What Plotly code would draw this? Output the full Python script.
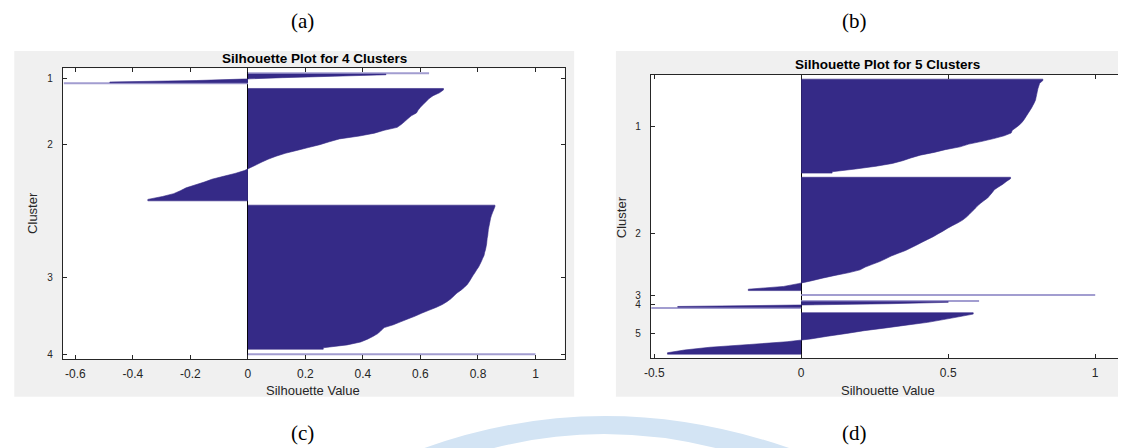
import plotly.graph_objects as go

# The page body has an 8px margin, so the figure is drawn 8px right/down.
OFF = 8
W, H = 1118, 440

# ---------------- data (silhouette values, sorted within each cluster) ----------------
# Panel (c): 4 clusters
labels_4 = ["1", "2", "3", "4"]
counts_4 = [8, 78, 100, 1]
sil4_c1 = [0.63, 0.48, 0.30, 0.12, -0.02, -0.18, -0.48, -0.64]
sil4_c2 = [0.680, 0.666, 0.644, 0.630, 0.620, 0.610, 0.600, 0.592, 0.586, 0.568,
           0.556, 0.545, 0.533, 0.519, 0.474, 0.440, 0.388, 0.318, 0.283, 0.250,
           0.210, 0.170, 0.130, 0.098, 0.072, 0.049, 0.029, 0.008, -0.012, -0.045,
           -0.085, -0.125, -0.152, -0.184, -0.215, -0.235, -0.258, -0.297, -0.348]
sil4_c3 = [0.859, 0.855, 0.851, 0.847, 0.844, 0.842, 0.840, 0.838, 0.836, 0.835,
           0.834, 0.832, 0.831, 0.830, 0.828, 0.826, 0.823, 0.821, 0.816, 0.812,
           0.807, 0.802, 0.795, 0.789, 0.782, 0.776, 0.770, 0.763, 0.753, 0.741,
           0.727, 0.716, 0.706, 0.692, 0.676, 0.654, 0.629, 0.604, 0.582, 0.556,
           0.531, 0.506, 0.474, 0.463, 0.453, 0.436, 0.416, 0.392, 0.345, 0.262]
sil4_c4 = [1.0]

# Panel (d): 5 clusters
labels_5 = ["1", "2", "3", "4", "5"]
counts_5 = [68, 82, 1, 6, 30]
sil5_c1 = [0.822, 0.811, 0.808, 0.805, 0.803, 0.801, 0.799, 0.797, 0.793, 0.788,
           0.783, 0.777, 0.771, 0.765, 0.759, 0.752, 0.743, 0.731, 0.718, 0.714,
           0.690, 0.655, 0.615, 0.570, 0.540, 0.490, 0.452, 0.405, 0.373, 0.345,
           0.310, 0.255, 0.185, 0.105]
sil5_c2 = [0.712, 0.698, 0.686, 0.671, 0.657, 0.650, 0.642, 0.634, 0.621, 0.609,
           0.598, 0.590, 0.580, 0.571, 0.561, 0.549, 0.533, 0.514, 0.497, 0.482,
           0.465, 0.449, 0.430, 0.411, 0.393, 0.374, 0.355, 0.330, 0.306, 0.287,
           0.267, 0.242, 0.218, 0.200, 0.163, 0.115, 0.072, 0.033, -0.010, -0.060,
           -0.180]
sil5_c3 = [1.0]
sil5_c4 = [0.605, 0.50, 0.30, -0.02, -0.42, -0.51]
sil5_c5 = [0.585, 0.535, 0.483, 0.430, 0.357, 0.288, 0.214, 0.155, 0.090, 0.032,
           -0.048, -0.175, -0.310, -0.397, -0.455]

x_ticks_4 = [-0.6, -0.4, -0.2, 0, 0.2, 0.4, 0.6, 0.8, 1]
x_ticks_5 = [-0.5, 0, 0.5, 1]

# ---------------- styling ----------------
DARK = "#352a87"
PALE = "#a29dd0"
AXC = "#262626"
SPACE = 3


def build(values_list, counts, xa, ya):
    """Return traces (filled silhouette outlines + thin edge bars), tick centres, length."""
    traces, ticks = [], []
    pale_x, pale_y, pale_w = [], [], []
    pos = SPACE + 1
    for vals, n in zip(values_list, counts):
        w = n / len(vals)
        full = abs(w - 1) < 1e-9
        rows = []
        for j, v in enumerate(vals):
            y0 = pos - 0.5 + j * w
            edge = full and (j == 0 or j == len(vals) - 1)
            if edge:
                pale_x.append(v)
                pale_y.append(y0 + w / 2)
                pale_w.append(w)
            else:
                rows.append((v, y0, y0 + w))
        if rows:
            xs = [0.0, rows[0][0]]
            ys = [rows[0][1], rows[0][1]]
            for v, y0, y1 in rows:
                xs.append(v)
                ys.append((y0 + y1) / 2)
            xs += [rows[-1][0], 0.0]
            ys += [rows[-1][2], rows[-1][2]]
            traces.append(go.Scatter(x=xs, y=ys, mode="lines", fill="toself",
                                     fillcolor=DARK,
                                     line=dict(color=DARK, width=0.6, simplify=False),
                                     xaxis=xa, yaxis=ya, showlegend=False,
                                     hoverinfo="skip"))
        ticks.append(pos + (n - 1) / 2)
        pos += n + SPACE
    if pale_x:
        traces.append(go.Bar(x=pale_x, y=pale_y, width=pale_w, orientation="h",
                             marker=dict(color=PALE, line=dict(width=0)),
                             xaxis=xa, yaxis=ya, showlegend=False, hoverinfo="skip"))
    return traces, ticks, pos - 1


tr_a, ta, La = build([sil4_c1, sil4_c2, sil4_c3, sil4_c4], counts_4, "x", "y")
tr_b, tb, Lb = build([sil5_c1, sil5_c2, sil5_c3, sil5_c4, sil5_c5], counts_5, "x2", "y2")

fig = go.Figure(data=tr_a + tr_b)


def px(x):
    return (x - OFF) / W


def py(y):
    return 1 - (y - OFF) / H


# plot-area pixel boxes (reference image coordinates)
A = dict(x0=56, x1=561, y0=68.3, y1=359.3)
B = dict(x0=647.7, x1=1124.3, y0=75, y1=358.3)

tickfont = dict(family="Liberation Sans, Arial, sans-serif", size=12, color=AXC)
common_x = dict(showgrid=False, zeroline=True, zerolinecolor="#000000", zerolinewidth=1,
                showline=True, linecolor=AXC, linewidth=1, mirror="ticks",
                ticks="inside", ticklen=4, tickcolor=AXC, tickfont=tickfont,
                ticklabelstandoff=3, fixedrange=True)
common_y = dict(showgrid=False, zeroline=False,
                showline=True, linecolor=AXC, linewidth=1, mirror="ticks",
                ticks="inside", ticklen=4, tickcolor=AXC,
                tickfont=dict(family="Liberation Sans, Arial, sans-serif", size=10, color=AXC),
                ticklabelstandoff=7, fixedrange=True)

fig.update_layout(
    width=W, height=H,
    margin=dict(l=0, r=0, t=0, b=0),
    paper_bgcolor="white",
    plot_bgcolor="rgba(0,0,0,0)",
    barmode="overlay",
    xaxis=dict(domain=[px(A["x0"]), px(A["x1"])], anchor="y", range=[-0.644, 1.101],
               tickvals=x_ticks_4, ticktext=[f"{v:g}" for v in x_ticks_4], **common_x),
    yaxis=dict(domain=[py(A["y1"]), py(A["y0"])], anchor="x", range=[La + 0.5, 0.5],
               tickvals=ta, ticktext=labels_4, **common_y),
    xaxis2=dict(domain=[px(B["x0"]), px(B["x1"])], anchor="y2", range=[-0.512, 1.099],
                tickvals=x_ticks_5, ticktext=[f"{v:g}" for v in x_ticks_5], **common_x),
    yaxis2=dict(domain=[py(B["y1"]), py(B["y0"])], anchor="x2", range=[Lb + 0.5, 0.5],
                tickvals=tb, ticktext=labels_5, **common_y),
)

shapes = []
# grey figure panels
for (x0, x1) in [(7.3, 570.7), (612.7, 1126)]:
    shapes.append(dict(type="rect", xref="paper", yref="paper", layer="below",
                       x0=px(x0), x1=px(x1), y0=py(396.7), y1=py(51),
                       fillcolor="#f0f0f0", line=dict(width=0)))
# white axes backgrounds
for box in (A, B):
    shapes.append(dict(type="rect", xref="paper", yref="paper", layer="below",
                       x0=px(box["x0"]), x1=px(box["x1"]), y0=py(box["y1"]), y1=py(box["y0"]),
                       fillcolor="white", line=dict(width=0)))
# faint watermark arc at the bottom
arc = ("M {a},{b} Q {c},{d} {e},{b} L {f},{b} Q {g},{h} {i},{b} Z").format(
    a=px(420), b=py(448), c=px(600), d=py(384), e=px(787),
    f=px(713), g=px(600), h=py(420), i=px(490))
shapes.append(dict(type="path", xref="paper", yref="paper", layer="below", path=arc,
                   fillcolor="#d3e4f4", line=dict(width=0)))
fig.update_layout(shapes=shapes)

ann = []
title_font = dict(family="Liberation Sans, Arial, sans-serif", size=13.5, color="#000000", weight="bold")
lab_font = dict(family="Liberation Sans, Arial, sans-serif", size=13, color=AXC)
panel_font = dict(family="Liberation Serif, Times New Roman, serif", size=21, color="#000000")


def add_text(text, x, y, font, angle=0):
    ann.append(dict(text=text, x=px(x), y=py(y), xref="paper", yref="paper",
                    showarrow=False, font=font, textangle=angle,
                    xanchor="center", yanchor="middle"))


add_text("Silhouette Plot for 4 Clusters", 309, 58, title_font)
add_text("Silhouette Plot for 5 Clusters", 886, 65, title_font)
add_text("Silhouette Value", 308, 390, lab_font)
add_text("Silhouette Value", 886, 390, lab_font)
add_text("Cluster", 26, 213, lab_font, angle=-90)
add_text("Cluster", 618, 217, lab_font, angle=-90)
add_text("(a)", 297, 21, panel_font)
add_text("(b)", 853, 21, panel_font)
add_text("(c)", 297, 433, panel_font)
add_text("(d)", 853, 433, panel_font)
fig.update_layout(annotations=ann)

fig.write_html("out.html")
